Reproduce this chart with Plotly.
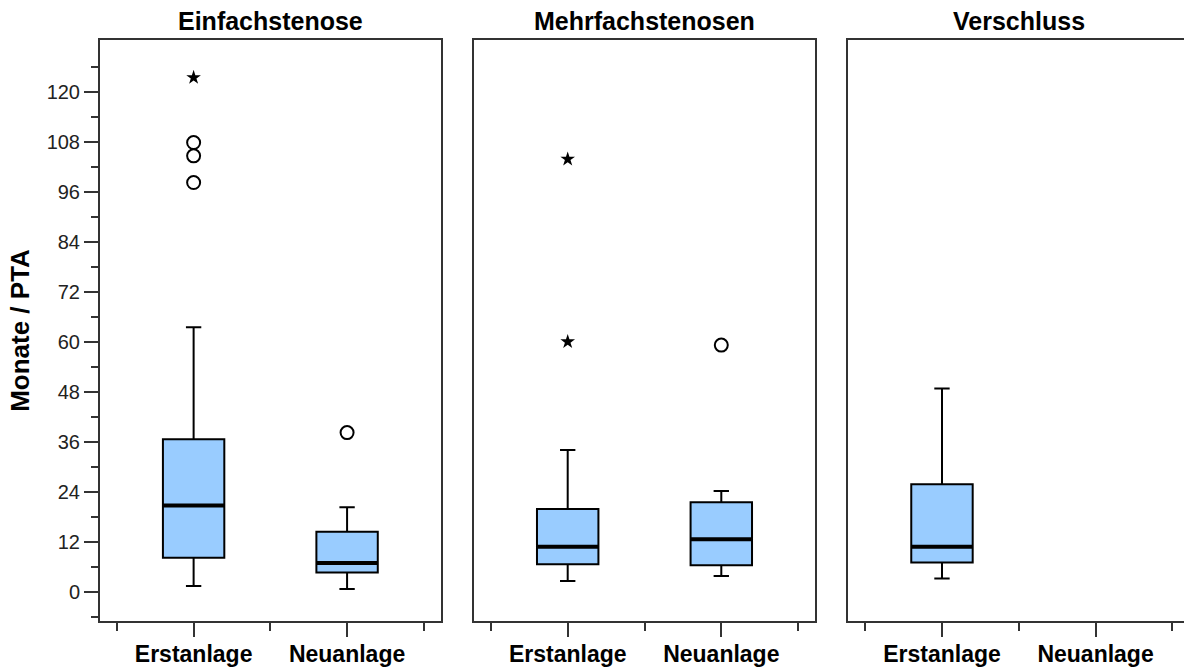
import plotly.graph_objects as go

# Panels (stenosis type) and groups within each panel
panels = ["Einfachstenose", "Mehrfachstenosen", "Verschluss"]
groups = ["Erstanlage", "Neuanlage"]

# Box statistics per panel: [Erstanlage, Neuanlage]; None = no data
q1 = [[8.2, 4.65], [6.6, 6.4], [7.05, None]]
median = [[20.7, 6.9], [10.8, 12.6], [10.8, None]]
q3 = [[36.6, 14.4], [19.9, 21.5], [25.8, None]]
lower_whisker = [[1.4, 0.7], [2.6, 3.8], [3.2, None]]
upper_whisker = [[63.5, 20.3], [34.0, 24.2], [48.8, None]]

# Outliers: circles (mild) and stars (extreme)
mild_outliers = [[[98.2, 104.6, 107.8], [38.2]], [[], [59.2]], [[], []]]
extreme_outliers = [[[123.4], []], [[103.8, 60.0], []], [[], []]]

y_major_ticks = [0, 12, 24, 36, 48, 60, 72, 84, 96, 108, 120]

FONT = "Arial, Liberation Sans, sans-serif"
BOX_W = 0.4
FILL = "#99CCFF"
FRAME = "#333333"

fig = go.Figure()

for p in range(len(panels)):
    xa = "x" if p == 0 else f"x{p + 1}"
    ya = "y" if p == 0 else f"y{p + 1}"
    for g in range(len(groups)):
        if median[p][g] is None:
            continue
        fig.add_trace(go.Box(
            x=[g], q1=[q1[p][g]], median=[median[p][g]], q3=[q3[p][g]],
            lowerfence=[lower_whisker[p][g]], upperfence=[upper_whisker[p][g]],
            width=BOX_W, whiskerwidth=0.25, fillcolor=FILL,
            line=dict(color="black", width=2), boxpoints=False,
            hoverinfo="skip", showlegend=False, xaxis=xa, yaxis=ya,
        ))
        # thicker median bar
        fig.add_trace(go.Scatter(
            x=[g - BOX_W / 2, g + BOX_W / 2], y=[median[p][g]] * 2,
            mode="lines", line=dict(color="black", width=4),
            hoverinfo="skip", showlegend=False, xaxis=xa, yaxis=ya,
        ))
        if mild_outliers[p][g]:
            fig.add_trace(go.Scatter(
                x=[g] * len(mild_outliers[p][g]), y=mild_outliers[p][g],
                mode="markers",
                marker=dict(symbol="circle-open", size=13, color="black",
                            line=dict(width=2, color="black")),
                hoverinfo="skip", showlegend=False, xaxis=xa, yaxis=ya,
            ))
        if extreme_outliers[p][g]:
            fig.add_trace(go.Scatter(
                x=[g] * len(extreme_outliers[p][g]), y=extreme_outliers[p][g],
                mode="markers",
                marker=dict(symbol="star", size=11, color="black",
                            line=dict(width=0)),
                hoverinfo="skip", showlegend=False, xaxis=xa, yaxis=ya,
            ))

W, H = 1184, 668
ML, MR, MT, MB = 100, 0, 40, 47
plot_w = W - ML - MR
px_left = [100, 474, 848.3]
px_right = [440.7, 815, 1184]
domains = [[(l - ML) / plot_w, min(1, (r - ML) / plot_w)] for l, r in zip(px_left, px_right)]
x_ranges = [[-0.61, 1.61], [-0.61, 1.61], [-0.61, 1.576]]

layout = dict(
    width=W, height=H,
    margin=dict(l=ML, r=MR, t=MT, b=MB, pad=0),
    paper_bgcolor="white", plot_bgcolor="white",
    showlegend=False,
)

for p in range(len(panels)):
    key = "xaxis" if p == 0 else f"xaxis{p + 1}"
    layout[key] = dict(
        domain=domains[p], range=x_ranges[p], anchor="y" if p == 0 else f"y{p + 1}",
        tickvals=[0, 1], ticktext=groups,
        ticks="outside", ticklen=14, tickwidth=2, tickcolor=FRAME,
        minor=dict(tickvals=[-0.5, 0.5, 1.5], ticks="outside", ticklen=8,
                   tickwidth=2, tickcolor=FRAME, showgrid=False),
        showline=True, linecolor=FRAME, linewidth=2, mirror=True,
        showgrid=False, zeroline=False,
        ticklabelstandoff=-3,
        tickfont=dict(family=FONT, size=23, color="black", weight="bold"),
    )
    ykey = "yaxis" if p == 0 else f"yaxis{p + 1}"
    yax = dict(
        domain=[0, 1], range=[-7.0, 132.4],
        anchor="x" if p == 0 else f"x{p + 1}",
        showline=True, linecolor=FRAME, linewidth=2,
        mirror=(p < 2),
        showgrid=False, zeroline=False,
    )
    if p == 0:
        yax.update(
            tickvals=y_major_ticks, ticks="outside", ticklen=14, tickwidth=2,
            tickcolor=FRAME,
            minor=dict(tickvals=[-6] + [t + 6 for t in y_major_ticks],
                       ticks="outside", ticklen=7, tickwidth=2,
                       tickcolor=FRAME, showgrid=False),
            tickfont=dict(family=FONT, size=20, color="#222222"),
            title=dict(text="Monate / PTA", standoff=10,
                       font=dict(family=FONT, size=26, color="black",
                                 weight="bold")),
        )
    else:
        yax.update(matches="y", showticklabels=False, ticks="")
    layout[ykey] = yax

layout["annotations"] = [
    dict(text=panels[p], xref="x" if p == 0 else f"x{p + 1}", yref="paper",
         x=0.5, y=1, xanchor="center", yanchor="bottom", yshift=3,
         showarrow=False,
         font=dict(family=FONT, size=25, color="black", weight="bold"))
    for p in range(len(panels))
]

fig.update_layout(**layout)
fig.write_html("out.html")
